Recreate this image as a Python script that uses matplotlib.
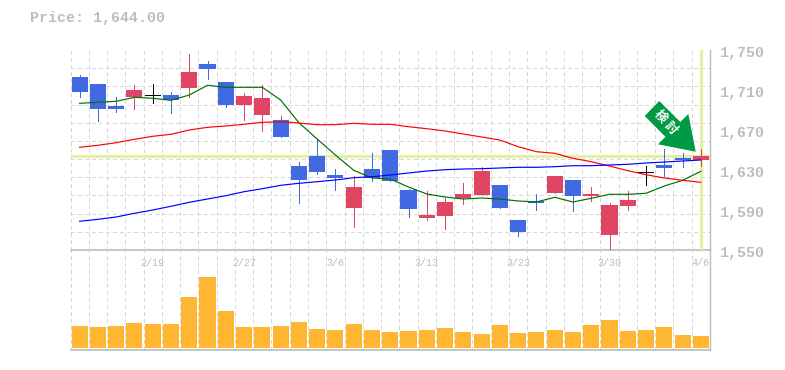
import matplotlib
matplotlib.use("Agg")
import matplotlib.pyplot as plt
from matplotlib.patches import Polygon
from matplotlib.transforms import ScaledTranslation, Affine2D

W, H = 785, 370
GRID = "#d8d8d8"
AXIS = "#bbbbbb"
TEXT = "#bdbdbd"
UP = "#e04563"
DOWN = "#4169e1"
HILITE = "#e3f0a5"
VOL = "#ffb733"
MONO = "Liberation Mono"

last_price = 1644

date_ticks = [4, 9, 14, 19, 24, 29, 34]
date_labels = ["2/19", "2/27", "3/6", "3/13", "3/23", "3/30", "4/6"]
price_ticks = [1550, 1590, 1630, 1670, 1710, 1750]

opens = [1723, 1716, 1694, 1703, 1704, 1705, 1712, 1736, 1718, 1695, 1685, 1680,
         1634, 1644, 1625, 1592, 1631, 1650, 1610, 1582, 1584, 1602, 1605, 1615,
         1580, 1599, 1607, 1620, 1604, 1565, 1594, 1627, 1635, 1642, 1640]
closes = [1708, 1691, 1691, 1710, 1704, 1700, 1728, 1731, 1695, 1704, 1702, 1663,
          1620, 1628, 1622, 1613, 1622, 1619, 1591, 1585, 1598, 1606, 1629, 1592,
          1568, 1597, 1624, 1604, 1606, 1595, 1600, 1627, 1632, 1640, 1644]
highs = [1725, 1716, 1703, 1715, 1716, 1708, 1746, 1739, 1718, 1707, 1715, 1684,
         1638, 1661, 1631, 1624, 1647, 1650, 1611, 1609, 1602, 1617, 1633, 1615,
         1580, 1606, 1624, 1620, 1613, 1597, 1609, 1634, 1651, 1647, 1651]
lows = [1703, 1679, 1688, 1691, 1697, 1687, 1703, 1721, 1693, 1680, 1669, 1663,
        1597, 1626, 1610, 1573, 1619, 1619, 1583, 1580, 1571, 1596, 1605, 1592,
        1564, 1590, 1607, 1589, 1599, 1549, 1590, 1615, 1624, 1633, 1634]

ma_short = [1696.7, 1697.7, 1698.7, 1702.7, 1701.7, 1699.7, 1705, 1714.7, 1712.7,
            1712.7, 1712.7, 1700, 1677.3, 1661, 1645, 1629.7, 1622, 1621, 1613,
            1606, 1603, 1601, 1602, 1601, 1599, 1598, 1602.7, 1598, 1601.7, 1605.7,
            1605.7, 1606.7, 1614, 1619.7, 1628.7]
ma_mid = [1652.7, 1654.7, 1657.3, 1660.7, 1663.7, 1665.7, 1670, 1672.7, 1674, 1675.7,
          1677.7, 1678.3, 1677, 1675.3, 1675.3, 1676.7, 1675.7, 1675.7, 1673.3, 1671.3,
          1669, 1666, 1663, 1660, 1653.3, 1648.3, 1646.7, 1641.7, 1638.3, 1634, 1629.3,
          1625.3, 1622, 1619.7, 1617.7]
ma_long = [1578.7, 1580.7, 1583, 1586.7, 1590, 1593.7, 1597.7, 1601, 1604.3, 1608.3,
           1611.3, 1614.7, 1616.7, 1618.3, 1620, 1622.3, 1623.3, 1625, 1627, 1629,
           1630.3, 1631, 1631.3, 1632, 1632.7, 1632.7, 1633.3, 1634.3, 1634.3, 1635,
           1635.7, 1637, 1638, 1639, 1640]

volume = [22, 21, 22, 25, 24, 24, 51, 71, 37, 21, 21, 22, 26, 19, 18, 24, 18, 16,
          17, 18, 20, 16, 14, 23, 15, 16, 18, 16, 23, 28, 17, 18, 21, 13, 12]


def px_axes(fig, left, top, right, bottom):
    return fig.add_axes([left / W, 1 - bottom / H, (right - left) / W, (bottom - top) / H])


def style_panel(ax):
    ax.set_xlim(-0.5, 34.5)
    ax.set_xticks([i - 0.5 for i in range(len(volume) + 1)], minor=True)
    ax.grid(True, which="minor", axis="x", color=GRID, lw=0.72, ls=(0, (3, 3)),
            antialiased=False)
    ax.tick_params(which="both", length=0)
    ax.set_axisbelow(True)
    for s in ax.spines.values():
        s.set_visible(False)
    ax.spines["right"].set_visible(True)
    ax.spines["right"].set_color(AXIS)
    ax.spines["right"].set_linewidth(1)


fig = plt.figure(figsize=(W / 100, H / 100), dpi=100)
ax_vol = px_axes(fig, 70.5, 250, 710, 350)
ax = px_axes(fig, 70.5, 50, 710, 250)
ax.set_zorder(2)
ax.patch.set_visible(False)

style_panel(ax)
style_panel(ax_vol)

# price panel
ax.set_ylim(1550, 1750)
ax.set_yticks([1750 - i * 200 / 11 for i in range(12)], minor=True)
ax.grid(True, which="minor", axis="y", color=GRID, lw=0.72, ls=(0, (3, 3)),
        antialiased=False)
ax.axhline(last_price, color=HILITE, lw=2.3, zorder=1)
ax.axvline(34, ymax=0.995, color=HILITE, lw=2.3, zorder=1)

xs = list(range(len(opens)))
for i in xs:
    o, c = opens[i], closes[i]
    if abs(c - o) < 1:
        col = "black"
    elif c > o:
        col = UP
    else:
        col = DOWN
    ax.vlines(i, lows[i], highs[i], color=col, lw=0.72, antialiased=False, zorder=3)
    ax.bar(i, max(abs(c - o), 1), bottom=min(o, c), width=0.88, color=col,
           antialiased=False, zorder=3)

ax.plot(xs, ma_short, color="#007000", lw=0.85, zorder=4)
ax.plot(xs, ma_mid, color="#ff0000", lw=0.85, zorder=4)
ax.plot(xs, ma_long, color="#0000ff", lw=0.85, zorder=4)

ax.yaxis.tick_right()
ax.set_yticks(price_ticks)
ax.set_yticklabels([f"{p:,}" for p in price_ticks], family=MONO, fontweight="bold",
                   fontsize=10.8, color=TEXT)
ax.tick_params(axis="y", pad=7)
shift = ScaledTranslation(0, -2 / 100, fig.dpi_scale_trans)
for lab in ax.get_yticklabels():
    lab.set_transform(lab.get_transform() + shift)

ax.set_xticks(date_ticks)
ax.set_xticklabels(date_labels, family=MONO, fontsize=7.2, color=TEXT)
ax.tick_params(axis="x", pad=6)

# volume panel
ax_vol.set_ylim(-2, 98)
ax_vol.set_yticks([])
ax_vol.set_xticks([])
ax_vol.bar(xs, volume, width=0.88, color=VOL, antialiased=False, zorder=3)
for side in ["top", "bottom"]:
    ax_vol.spines[side].set_visible(True)
    ax_vol.spines[side].set_color(AXIS)
    ax_vol.spines[side].set_linewidth(1.2)

# signal arrow, placed in picture pixels
to_px = Affine2D().scale(1, -1).translate(0, H)
arrow = [(659.3, 101), (680.3, 122), (688.3, 114), (695.7, 151.7), (658, 144.3),
         (665.5, 136.8), (644.7, 116)]
fig.patches.append(Polygon(arrow, closed=True, facecolor="#009944", edgecolor="none",
                           transform=to_px, figure=fig, zorder=6))
fig.text(665.8 / W, 1 - 122.6 / H, "検 討", color="white", fontsize=9, fontweight="bold",
         family=["Noto Sans CJK JP", "DejaVu Sans"], rotation=-48,
         rotation_mode="anchor", ha="center", va="center", zorder=7)

fig.text(30 / W, 1 - 18 / H, "Price: 1,644.00", family=MONO, fontweight="bold",
         fontsize=10.8, color=TEXT, va="center")

fig.savefig("out.png", dpi=100, facecolor="white")
